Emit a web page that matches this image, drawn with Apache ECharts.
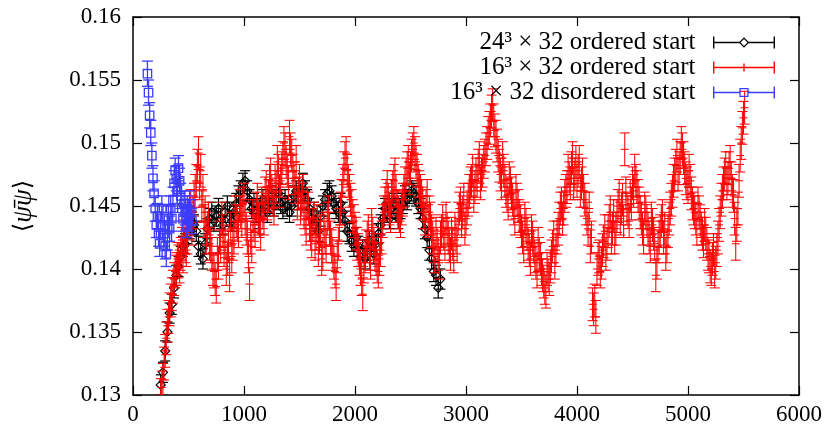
<!DOCTYPE html>
<html>
<head>
<meta charset="utf-8">
<script src="https://cdn.jsdelivr.net/npm/echarts@6/dist/echarts.min.js"></script>
<style>
html,body{margin:0;padding:0;background:#fff;}
#c{width:825px;height:430px;}
</style>
</head>
<body>
<div id="c"></div>
<script>
// ---- data ----
const seriesNames = ['24\u00b3 \u00d7 32 ordered start', '16\u00b3 \u00d7 32 ordered start', '16\u00b3 \u00d7 32 disordered start'];
const seriesColors = ['#000000', '#ff0000', '#3c3cff'];

const xTicks = [0, 1000, 2000, 3000, 4000, 5000, 6000];
const yTicks = [0.13, 0.135, 0.14, 0.145, 0.15, 0.155, 0.16];

// 24^3 x 32 ordered start: trajectory sampled every 20 from 250
const blackStart = 250, blackStep = 20, blackErr = 0.0008;
const blackVals = [
0.1308,0.1318,0.1335,0.1350,0.1365,0.1372,0.1385,0.1395,0.1402,0.1410,
0.1418,0.1420,0.1428,0.1432,0.1438,0.1435,0.1430,0.1418,0.1412,0.1408,
0.1420,0.1432,0.1440,0.1445,0.1438,0.1442,0.1448,0.1440,0.1435,0.1445,
0.1450,0.1442,0.1438,0.1445,0.1452,0.1458,0.1462,0.1468,0.1470,0.1462,
0.1455,0.1448,0.1452,0.1445,0.1440,0.1448,0.1455,0.1450,0.1445,0.1452,
0.1458,0.1450,0.1455,0.1460,0.1452,0.1448,0.1455,0.1450,0.1445,0.1450,
0.1458,0.1462,0.1455,0.1460,0.1468,0.1462,0.1455,0.1448,0.1440,0.1445,
0.1438,0.1430,0.1442,0.1450,0.1455,0.1460,0.1462,0.1458,0.1452,0.1448,
0.1445,0.1452,0.1445,0.1438,0.1430,0.1428,0.1422,0.1418,0.1425,0.1418,
0.1410,0.1415,0.1408,0.1415,0.1422,0.1418,0.1412,0.1420,0.1428,0.1435,
0.1440,0.1448,0.1445,0.1440,0.1448,0.1452,0.1445,0.1440,0.1448,0.1452,
0.1458,0.1455,0.1460,0.1462,0.1460,0.1458,0.1452,0.1448,0.1440,0.1432,
0.1425,0.1415,0.1408,0.1398,0.1395,0.1385,0.1392
];

// 16^3 x 32 ordered start: samples at 250, 270, 290, ... (A) and 260, 280, 300, ... (B)
const redStartA = 250, redStartB = 260, redStep = 20, redErr = 0.0013;
const redValsA = [
0.1300,0.1312,0.1335,0.1355,0.1368,0.1380,0.1392,0.1400,0.1406,0.1412,
0.1410,0.1418,0.1425,0.1436,0.1432,0.1455,0.1470,0.1492,0.1478,0.1462,
0.1445,0.1432,0.1420,0.1412,0.1398,0.1386,0.1405,0.1418,0.1430,0.1422,
0.1408,0.1395,0.1410,0.1425,0.1438,0.1430,0.1445,0.1452,0.1440,0.1425,
0.1388,0.1418,0.1435,0.1448,0.1440,0.1428,0.1445,0.1460,0.1452,0.1470,
0.1462,0.1448,0.1465,0.1478,0.1470,0.1488,0.1495,0.1478,0.1505,0.1490,
0.1472,0.1485,0.1460,0.1448,0.1462,0.1440,0.1452,0.1435,0.1422,0.1440,
0.1428,0.1415,0.1430,0.1412,0.1425,0.1440,0.1432,0.1418,0.1405,0.1388,
0.1420,0.1448,0.1470,0.1488,0.1478,0.1462,0.1450,0.1438,0.1428,0.1415,
0.1400,0.1380,0.1410,0.1425,0.1412,0.1435,0.1420,0.1408,0.1398,0.1415,
0.1438,0.1452,0.1465,0.1448,0.1458,0.1470,0.1462,0.1445,0.1438,0.1455,
0.1468,0.1480,0.1472,0.1490,0.1500,0.1485,0.1470,0.1462,0.1452,0.1440,
0.1458,0.1445,0.1430,0.1418,0.1428,0.1412,0.1425,0.1438,0.1420,0.1432,
0.1418,0.1428,0.1410,0.1425,0.1440,0.1452,0.1445,0.1432,0.1448,0.1462,
0.1470,0.1458,0.1475,0.1482,0.1468,0.1478,0.1490,0.1500,0.1512,0.1525,
0.1518,0.1505,0.1490,0.1475,0.1488,0.1470,0.1458,0.1472,0.1460,0.1448,
0.1462,0.1450,0.1438,0.1425,0.1440,0.1428,0.1415,0.1430,0.1418,0.1405,
0.1420,0.1408,0.1395,0.1385,0.1400,0.1392,0.1410,0.1425,0.1415,0.1432,
0.1448,0.1440,0.1458,0.1465,0.1472,0.1480,0.1468,0.1485,0.1478,0.1462,
0.1475,0.1455,0.1440,0.1448,0.1425,0.1368,0.1362,0.1408,0.1398,0.1415,
0.1430,0.1420,0.1438,0.1425,0.1442,0.1432,0.1450,0.1440,0.1455,0.1495,
0.1448,0.1438,0.1452,0.1462,0.1470,0.1458,0.1445,0.1432,0.1448,0.1438,
0.1425,0.1440,0.1428,0.1395,0.1418,0.1430,0.1442,0.1432,0.1418,0.1440,
0.1455,0.1470,0.1482,0.1475,0.1488,0.1495,0.1480,0.1468,0.1478,0.1460,
0.1448,0.1440,0.1452,0.1438,0.1428,0.1435,0.1420,0.1410,0.1400,0.1415,
0.1405,0.1425,0.1445,0.1462,0.1475,0.1468,0.1480,0.1472,0.1458,0.1420,
0.1448,0.1490,0.1512,0.1528
];
const redValsB = [
0.1306,0.1325,0.1345,0.1362,0.1375,0.1386,0.1398,0.1408,0.1402,0.1420,
0.1426,0.1415,0.1440,0.1450,0.1445,0.1462,0.1482,0.1468,0.1450,0.1438,
0.1425,0.1440,0.1418,0.1400,0.1392,0.1412,0.1425,0.1440,0.1415,0.1400,
0.1418,0.1432,0.1420,0.1445,0.1435,0.1450,0.1438,0.1455,0.1432,0.1410,
0.1425,0.1442,0.1430,0.1455,0.1438,0.1452,0.1440,0.1465,0.1458,0.1475,
0.1455,0.1470,0.1485,0.1462,0.1480,0.1500,0.1485,0.1468,0.1495,0.1478,
0.1465,0.1452,0.1470,0.1455,0.1445,0.1432,0.1448,0.1428,0.1435,0.1420,
0.1438,0.1425,0.1408,0.1432,0.1418,0.1445,0.1425,0.1412,0.1398,0.1410,
0.1435,0.1458,0.1480,0.1492,0.1470,0.1455,0.1442,0.1432,0.1420,0.1408,
0.1392,0.1402,0.1418,0.1430,0.1405,0.1428,0.1412,0.1402,0.1408,0.1425,
0.1445,0.1458,0.1455,0.1442,0.1465,0.1475,0.1450,0.1442,0.1448,0.1462,
0.1475,0.1485,0.1480,0.1495,0.1492,0.1478,0.1465,0.1458,0.1445,0.1450,
0.1438,0.1440,0.1425,0.1410,0.1420,0.1405,0.1430,0.1428,0.1440,0.1425,
0.1412,0.1420,0.1432,0.1418,0.1448,0.1438,0.1455,0.1440,0.1455,0.1468,
0.1478,0.1465,0.1470,0.1488,0.1475,0.1485,0.1495,0.1508,0.1518,0.1530,
0.1510,0.1498,0.1482,0.1468,0.1478,0.1462,0.1452,0.1468,0.1455,0.1440,
0.1455,0.1442,0.1430,0.1418,0.1435,0.1420,0.1408,0.1425,0.1410,0.1398,
0.1412,0.1400,0.1390,0.1382,0.1395,0.1402,0.1418,0.1405,0.1425,0.1440,
0.1452,0.1448,0.1462,0.1478,0.1468,0.1488,0.1475,0.1470,0.1485,0.1468,
0.1462,0.1448,0.1432,0.1418,0.1372,0.1375,0.1400,0.1410,0.1405,0.1422,
0.1412,0.1430,0.1445,0.1432,0.1425,0.1442,0.1458,0.1448,0.1438,0.1460,
0.1445,0.1458,0.1468,0.1478,0.1465,0.1452,0.1440,0.1425,0.1445,0.1432,
0.1418,0.1435,0.1420,0.1405,0.1425,0.1438,0.1425,0.1412,0.1430,0.1448,
0.1462,0.1475,0.1490,0.1480,0.1500,0.1488,0.1472,0.1465,0.1470,0.1452,
0.1445,0.1432,0.1445,0.1432,0.1422,0.1428,0.1412,0.1402,0.1408,0.1398,
0.1415,0.1435,0.1455,0.1468,0.1480,0.1472,0.1485,0.1462,0.1440,0.1435,
0.1470,0.1500,0.1520
];

// 16^3 x 32 disordered start: trajectory sampled every 10 from 130
const blueStart = 130, blueStep = 10, blueErr = 0.0010;
const blueVals = [
0.1555,0.1540,0.1522,0.1508,0.1490,0.1472,0.1460,0.1448,0.1435,0.1442,
0.1428,0.1420,0.1435,0.1448,0.1440,0.1428,0.1418,0.1412,0.1425,0.1440,
0.1432,0.1448,0.1440,0.1455,0.1468,0.1478,0.1472,0.1462,0.1480,0.1470,
0.1458,0.1448,0.1440,0.1452,0.1445,0.1435,0.1448,0.1440,0.1452,0.1445,
0.1438
];

// ---- build ----
function toData(start, step, vals, err) {
  return vals.map((v, i) => [start + i * step, v, err]);
}
const redData = toData(redStartA, redStep, redValsA, redErr)
  .concat(toData(redStartB, redStep, redValsB, redErr))
  .sort((a, b) => a[0] - b[0]);

const FONT = "'Liberation Serif', 'DejaVu Serif', serif";

function makeRender(kind, color, capHalf, lw) {
  return function (params, api) {
    const x = api.value(0), y = api.value(1), e = api.value(2);
    const p = api.coord([x, y]);
    const lo = api.coord([x, y - e]);
    const hi = api.coord([x, y + e]);
    const st = () => ({ stroke: color, lineWidth: lw, fill: null });
    const ch = [
      { type: 'line', shape: { x1: p[0], y1: lo[1], x2: p[0], y2: hi[1] }, style: st() },
      { type: 'line', shape: { x1: p[0] - capHalf, y1: lo[1], x2: p[0] + capHalf, y2: lo[1] }, style: st() },
      { type: 'line', shape: { x1: p[0] - capHalf, y1: hi[1], x2: p[0] + capHalf, y2: hi[1] }, style: st() }
    ];
    if (kind === 'plus') {
      ch.push({ type: 'line', shape: { x1: p[0] - 4, y1: p[1], x2: p[0] + 4, y2: p[1] }, style: st() });
    } else if (kind === 'diamond') {
      const r = 4.5;
      ch.push({ type: 'polygon', shape: { points: [[p[0], p[1] - r], [p[0] + r, p[1]], [p[0], p[1] + r], [p[0] - r, p[1]]] }, style: st() });
    } else if (kind === 'square') {
      const r = 4.2;
      ch.push({ type: 'rect', shape: { x: p[0] - r, y: p[1] - r, width: 2 * r, height: 2 * r }, style: st() });
    }
    return { type: 'group', children: ch };
  };
}

const iconBlack = 'path://M0 0H1.4V12H0Z M60.6 0H62V12H60.6Z M0 5.3H26.4V6.7H0Z M35.6 5.3H62V6.7H35.6Z M31 0.8L36.2 6L31 11.2L25.8 6Z M31 2.6L27.6 6L31 9.4L34.4 6Z';
const iconRed = 'path://M0 0H1.4V12H0Z M60.6 0H62V12H60.6Z M0 5.3H62V6.7H0Z M30.3 2H31.7V10H30.3Z';
const iconBlue = 'path://M0 0H1.4V12H0Z M60.6 0H62V12H60.6Z M0 5.3H26.4V6.7H0Z M35.6 5.3H62V6.7H35.6Z M26.4 1.4H35.6V10.6H26.4Z M27.7 2.7V9.3H34.3V2.7Z';

function axisCommon(showLabel) {
  return {
    axisLine: { show: true, onZero: false, lineStyle: { color: '#000', width: 1.5 } },
    axisTick: { show: true, inside: true, length: 9, lineStyle: { color: '#000', width: 1.2 } },
    splitLine: { show: false },
    axisLabel: { show: showLabel, color: '#000', fontFamily: FONT, fontSize: 23 }
  };
}

const yFmt = v => String(parseFloat(v.toFixed(3)));
const xFmt = v => String(Math.round(v));

const option = {
  animation: false,
  backgroundColor: '#fff',
  grid: { left: 133, right: 25, top: 17, bottom: 35, containLabel: false },
  xAxis: [
    Object.assign(axisCommon(true), { type: 'value', position: 'bottom', min: xTicks[0], max: xTicks[xTicks.length - 1], interval: xTicks[1] - xTicks[0] }),
    Object.assign(axisCommon(false), { type: 'value', position: 'top', min: xTicks[0], max: xTicks[xTicks.length - 1], interval: xTicks[1] - xTicks[0] })
  ],
  yAxis: [
    Object.assign(axisCommon(true), {
      type: 'value', position: 'left', min: yTicks[0], max: yTicks[yTicks.length - 1], interval: 0.005,
      name: '{a|\u27e8}{b|\u03c8\u0304\u03c8}{a|\u27e9}', nameLocation: 'middle', nameRotate: 90, nameGap: 96,
      nameTextStyle: { color: '#000', fontFamily: FONT, fontSize: 26,
        rich: { a: { fontFamily: "'DejaVu Serif', serif", fontSize: 24, color: '#000' }, b: { fontFamily: FONT, fontStyle: 'italic', fontSize: 27, color: '#000' } } }
    }),
    Object.assign(axisCommon(false), { type: 'value', position: 'right', min: yTicks[0], max: yTicks[yTicks.length - 1], interval: 0.005 })
  ],
  legend: {
    orient: 'vertical', right: 50, top: 30, align: 'right', padding: 0,
    itemWidth: 62, itemHeight: 12, itemGap: 0,
    formatter: n => n + '  ',
    textStyle: { color: '#000', fontFamily: FONT, fontSize: 25 },
    data: [
      { name: seriesNames[0], icon: iconBlack },
      { name: seriesNames[1], icon: iconRed },
      { name: seriesNames[2], icon: iconBlue }
    ]
  },
  series: [
    { name: seriesNames[0], type: 'custom', clip: true, itemStyle: { color: seriesColors[0] },
      encode: { x: 0, y: 1 }, renderItem: makeRender('diamond', seriesColors[0], 5, 1.2),
      data: toData(blackStart, blackStep, blackVals, blackErr) },
    { name: seriesNames[1], type: 'custom', clip: true, itemStyle: { color: seriesColors[1] },
      encode: { x: 0, y: 1 }, renderItem: makeRender('plus', seriesColors[1], 5, 1.05),
      data: redData },
    { name: seriesNames[2], type: 'custom', clip: true, itemStyle: { color: seriesColors[2] },
      encode: { x: 0, y: 1 }, renderItem: makeRender('square', seriesColors[2], 5.5, 1.3),
      data: toData(blueStart, blueStep, blueVals, blueErr) }
  ]
};
option.yAxis[0].axisLabel.formatter = yFmt;
option.yAxis[0].axisLabel.margin = 12;
option.xAxis[0].axisLabel.formatter = xFmt;
option.xAxis[0].axisLabel.margin = 8;

const chart = echarts.init(document.getElementById('c'), null, { renderer: 'canvas' });
chart.setOption(option);
</script>
</body>
</html>
